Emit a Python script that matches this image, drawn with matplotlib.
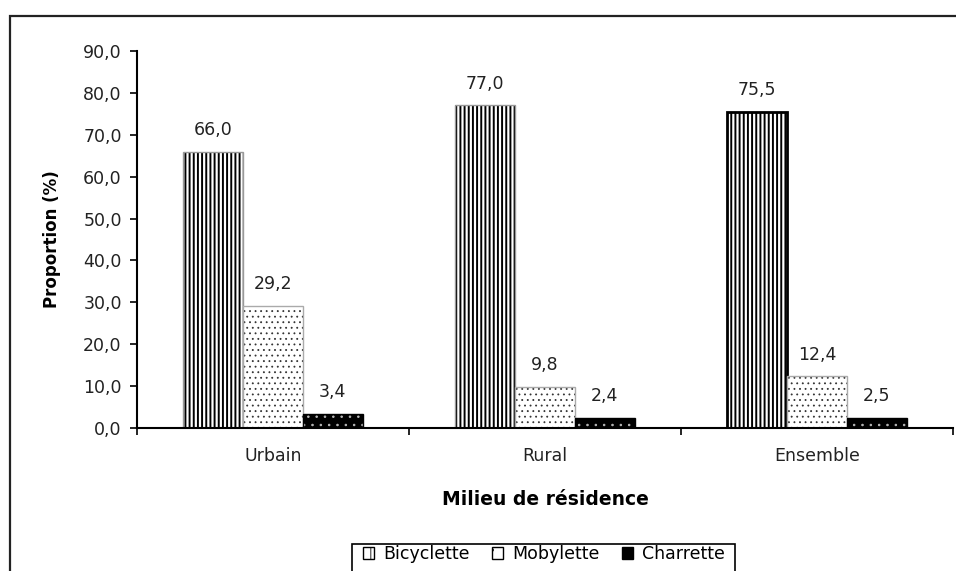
import numpy as np
import matplotlib
matplotlib.use("Agg")
from matplotlib import pyplot as plt
from matplotlib.patches import Rectangle

plt.rcParams['font.family'] = ['DejaVu Sans']

categories = ['Urbain', 'Rural', 'Ensemble']
bicyclette = [66.0, 77.0, 75.5]
mobylette = [29.2, 9.8, 12.4]
charrette = [3.4, 2.4, 2.5]
series_names = ['Bicyclette', 'Mobylette', 'Charrette']

def fr(v):
    return f"{v:.1f}".replace('.', ',')

W, H = 956, 571
fig = plt.figure(figsize=(W / 100, H / 100), dpi=100)
ax = fig.add_axes([137 / W, 1 - 428 / H, (953 - 137) / W, (428 - 51) / H])

# outer frame (cut at right and bottom in the original)
fig.patches.append(Rectangle((10 / W, -0.1), 1.2, 1 - 16 / H + 0.1,
                             transform=fig.transFigure, fill=False,
                             edgecolor='#222222', linewidth=1.6))

x = np.arange(len(categories)) + 0.5
bw = 0.22
fs = 12.5

# Bicyclette: white with vertical black lines
plt.rcParams['hatch.linewidth'] = 1.4
ax.bar(x - bw, bicyclette, bw, color='white', edgecolor='black', hatch='||||', linewidth=0)
ax.bar(x - bw, bicyclette, bw, fill=False, edgecolor=['#999999', '#999999', 'black'],
       linewidth=[1, 1, 2])

# Mobylette: white with small dots
plt.rcParams['hatch.linewidth'] = 0.6
ax.bar(x, mobylette, bw, color='white', edgecolor='#333333', hatch='...', linewidth=0)
ax.bar(x, mobylette, bw, fill=False, edgecolor='#aaaaaa', linewidth=1)

# Charrette: black with white dots
ax.bar(x + bw, charrette, bw, color='black', edgecolor='#bbbbbb', hatch='..', linewidth=0)
ax.bar(x + bw, charrette, bw, fill=False, edgecolor='black', linewidth=1)

for off, vals in zip([-bw, 0, bw], [bicyclette, mobylette, charrette]):
    for xi, v in zip(x, vals):
        ax.annotate(fr(v), (xi + off, v), xytext=(0, 9), textcoords='offset points',
                    ha='center', va='bottom', fontsize=fs, color='#222222')

ax.set_xlim(0, 3)
ax.set_ylim(0, 90)
ax.set_yticks(np.arange(0, 91, 10))
ax.set_yticklabels([fr(v) for v in np.arange(0, 91, 10)], fontsize=fs, color='#222222')
ax.set_xticks([0, 1, 2, 3])
ax.set_xticklabels([])
ax.set_xticks(x, minor=True)
ax.set_xticklabels(categories, minor=True, fontsize=fs, color='#222222')
ax.tick_params(axis='x', which='minor', length=0, pad=14)
ax.tick_params(axis='x', which='major', length=5, direction='out', width=1.2)
ax.tick_params(axis='y', length=5, direction='out', width=1.2, pad=6)

for s in ['top', 'right']:
    ax.spines[s].set_visible(False)
for s in ['left', 'bottom']:
    ax.spines[s].set_linewidth(1.5)

ax.set_xlabel('Milieu de résidence', fontsize=13.5, fontweight='bold', labelpad=18)
ax.set_ylabel('Proportion (%)', fontsize=12, fontweight='bold', labelpad=16)

# legend proxies
h1 = Rectangle((0, 0), 1, 1, facecolor='white', edgecolor='black', hatch='||')
h2 = Rectangle((0, 0), 1, 1, facecolor='white', edgecolor='black', hatch='.')
h3 = Rectangle((0, 0), 1, 1, facecolor='black', edgecolor='black')
leg = fig.legend([h1, h2, h3], series_names, loc='center',
                 bbox_to_anchor=(544 / W, 1 - 554 / H), ncol=3, fontsize=fs,
                 frameon=False, handlelength=0.65, handleheight=0.65,
                 handletextpad=0.5, columnspacing=1.3, borderpad=0)

# legend box, cut at the bottom edge as in the original
fig.patches.append(Rectangle((352 / W, -0.05), (735 - 352) / W, 0.05 + 1 - 544 / H,
                             transform=fig.transFigure, fill=False,
                             edgecolor='black', linewidth=1.2))

fig.savefig('out.png', dpi=100)
